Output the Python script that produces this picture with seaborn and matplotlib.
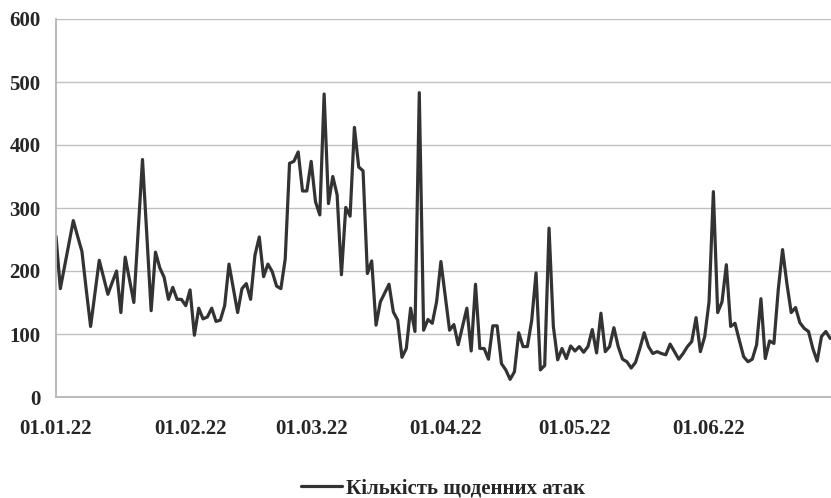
import pandas as pd
import numpy as np
import matplotlib
matplotlib.use("Agg")
import matplotlib.pyplot as plt
import matplotlib.dates as mdates
import seaborn as sns

# Daily attack counts, 01.01.22 .. 29.06.22
start_date = "2022-01-01"
attacks = [
    255, 172, 208, 244, 280, 255, 231, 170, 112, 165,
    217, 190, 163, 182, 200, 134, 222, 186, 150, 263,
    377, 257, 137, 230, 205, 190, 155, 174, 155, 155,
    145, 170, 98, 141, 124, 127, 141, 120, 122, 145,
    211, 172, 134, 172, 180, 155, 225, 254, 191, 211,
    199, 176, 172, 219, 371, 374, 389, 327, 327, 374,
    310, 289, 481, 307, 350, 321, 194, 301, 287, 428,
    365, 359, 196, 216, 114, 151, 165, 179, 135, 122,
    63, 77, 141, 104, 483, 106, 123, 117, 151, 215,
    160, 106, 115, 83, 112, 141, 73, 179, 77, 77,
    60, 113, 113, 53, 43, 28, 40, 102, 80, 80,
    122, 197, 43, 50, 268, 112, 59, 77, 61, 81,
    73, 80, 71, 80, 107, 70, 133, 72, 80, 110,
    80, 60, 56, 46, 55, 77, 102, 80, 69, 72,
    69, 67, 84, 72, 60, 69, 80, 88, 126, 72,
    96, 151, 326, 134, 151, 210, 112, 117, 90, 64,
    56, 60, 83, 156, 61, 89, 85, 170, 234, 180,
    134, 142, 118, 109, 104, 77, 57, 96, 104, 93,
]
series_name = "Кількість щоденних атак"
y_ticks = [0, 100, 200, 300, 400, 500, 600]
month_ticks = ["2022-01-01", "2022-02-01", "2022-03-01",
               "2022-04-01", "2022-05-01", "2022-06-01"]

df = pd.DataFrame({
    "date": pd.date_range(start_date, periods=len(attacks), freq="D"),
    "value": attacks,
})

sns.set_style("white")
plt.rcParams["font.family"] = ["Liberation Serif", "DejaVu Serif"]
plt.rcParams["font.weight"] = "bold"

fig = plt.figure(figsize=(8.31, 4.98), dpi=100)
ax = fig.add_axes([56 / 831, 1 - 397 / 498, 1 - 56 / 831, (397 - 19) / 498])

sns.lineplot(data=df, x="date", y="value", ax=ax, color="#333333",
             linewidth=2.3, label=series_name, legend=False)

ax.set_ylim(0, 600)
ax.set_yticks(y_ticks)
ax.set_xlim(pd.Timestamp(start_date), pd.Timestamp(start_date) + pd.Timedelta(days=179.2))
ax.set_xticks(pd.to_datetime(month_ticks))
ax.xaxis.set_major_formatter(mdates.DateFormatter("%d.%m.%y"))
ax.set_xlabel("")
ax.set_ylabel("")

ax.grid(axis="y", color="#c0c0c0", linewidth=1.0)
ax.set_axisbelow(True)
for side in ["top", "right"]:
    ax.spines[side].set_visible(False)
for side in ["left", "bottom"]:
    ax.spines[side].set_color("#b5b5b5")
    ax.spines[side].set_linewidth(1.3)

ax.tick_params(axis="both", which="major", direction="out", length=5,
               width=1.0, color="#b5b5b5", labelsize=15)
ax.tick_params(axis="x", pad=11)
ax.tick_params(axis="y", pad=6)
for lbl in ax.get_xticklabels() + ax.get_yticklabels():
    lbl.set_fontweight("bold")

handles, labels = ax.get_legend_handles_labels()
fig.legend(handles, labels, loc="center", bbox_to_anchor=(443 / 831, 1 - 488 / 498),
           frameon=False, prop={"weight": "bold", "size": 15},
           handlelength=2.0, handletextpad=0.2)

fig.savefig("out.png", dpi=100)
